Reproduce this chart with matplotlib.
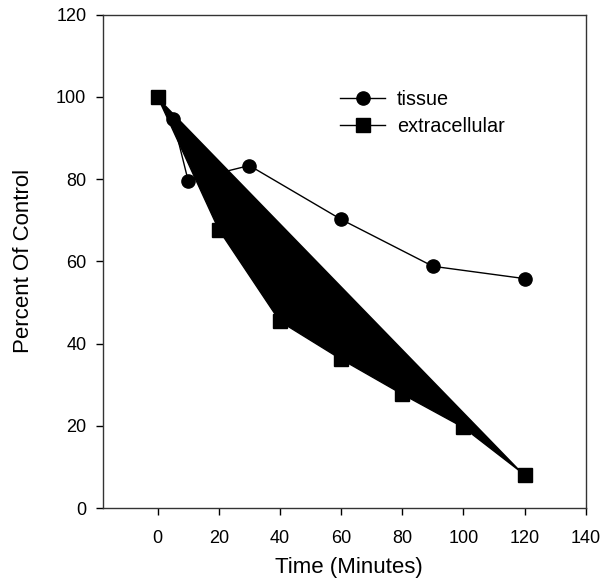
import matplotlib
matplotlib.use("Agg")
import matplotlib.pyplot as plt

plt.rcParams["font.family"] = ["Liberation Sans", "DejaVu Sans"]

tissue_time = [0, 5, 10, 30, 60, 90, 120]
tissue_pct = [100, 94.6, 79.6, 83.3, 70.2, 58.8, 55.8]

extra_time = [0, 20, 40, 60, 80, 100, 120]
extra_pct = [100, 67.7, 45.4, 36.2, 27.7, 19.6, 8.1]

xticks = [0, 20, 40, 60, 80, 100, 120, 140]
yticks = [0, 20, 40, 60, 80, 100, 120]

fig = plt.figure(figsize=(6.14, 5.84), dpi=100)
ax = fig.add_axes([0.167, 0.13, 0.787, 0.845])

ax.plot(tissue_time, tissue_pct, color="black", lw=1, marker="o", ms=9.5,
        label="tissue")
# the original closes the extracellular series into a filled polygon
ax.fill(extra_time, extra_pct, color="black", lw=0)
ax.plot(extra_time, extra_pct, color="black", lw=1, marker="s", ms=9.5,
        label="extracellular")

ax.set_xlim(-18, 140)
ax.set_ylim(0, 120)
ax.set_xticks(xticks)
ax.set_yticks(yticks)
ax.tick_params(direction="out", length=4.7, width=1, labelsize=13,
               top=False, right=False)
ax.tick_params(axis="x", pad=11)
ax.tick_params(axis="y", pad=7)
for s in ax.spines.values():
    s.set_linewidth(1)
    s.set_color("#333333")

ax.set_xlabel("Time (Minutes)", fontsize=16)
ax.set_ylabel("Percent Of Control", fontsize=16)
ax.xaxis.set_label_coords(0.51, -0.1)
ax.yaxis.set_label_coords(-0.141, 0.5)

ax.legend(loc="upper left", bbox_to_anchor=(0.492, 0.847), frameon=False,
          fontsize=14.3, handlelength=2.25, handletextpad=0.6, labelspacing=0.4,
          borderpad=0, borderaxespad=0)

fig.savefig("out.png", dpi=100)
